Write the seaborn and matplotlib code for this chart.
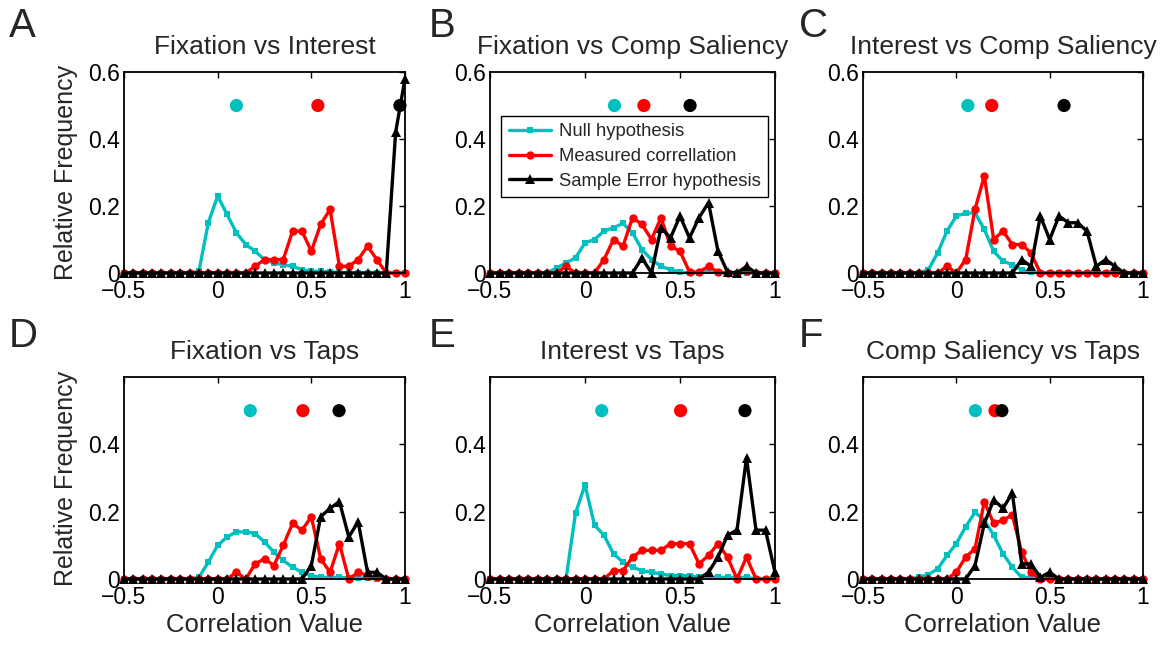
import matplotlib
matplotlib.use("Agg")
import matplotlib.pyplot as plt
import numpy as np
import pandas as pd
import seaborn as sns

# ---------------- data ----------------
bins = [-0.5, -0.45, -0.4, -0.35, -0.3, -0.25, -0.2, -0.15, -0.1, -0.05,
        0.0, 0.05, 0.1, 0.15, 0.2, 0.25, 0.3, 0.35, 0.4, 0.45,
        0.5, 0.55, 0.6, 0.65, 0.7, 0.75, 0.8, 0.85, 0.9, 0.95, 1.0]

series_names = ["Null hypothesis", "Measured correllation", "Sample Error hypothesis"]
titles = ["Fixation vs Interest", "Fixation vs Comp Saliency", "Interest vs Comp Saliency",
          "Fixation vs Taps", "Interest vs Taps", "Comp Saliency vs Taps"]
panel_letters = ["A", "B", "C", "D", "E", "F"]

null_A = [0, 0, 0, 0, 0, 0, 0, 0, 0.005, 0.15, 0.23, 0.175, 0.12, 0.085, 0.065, 0.04, 0.03, 0.025, 0.02, 0.01, 0.005, 0.005, 0.003, 0.002, 0, 0, 0, 0, 0, 0, 0]
meas_A = [0, 0, 0, 0, 0, 0, 0, 0, 0, 0, 0, 0, 0, 0, 0.02, 0.04, 0.04, 0.04, 0.125, 0.125, 0.065, 0.145, 0.19, 0.02, 0.02, 0.04, 0.08, 0.04, 0, 0, 0]
err_A = [0, 0, 0, 0, 0, 0, 0, 0, 0, 0, 0, 0, 0, 0, 0, 0, 0, 0, 0, 0, 0, 0, 0, 0, 0, 0, 0, 0, 0, 0.42, 0.58]

null_B = [0, 0, 0, 0, 0, 0, 0, 0.015, 0.03, 0.045, 0.09, 0.10, 0.125, 0.135, 0.148, 0.12, 0.07, 0.04, 0.02, 0.01, 0.003, 0, 0, 0.005, 0, 0, 0, 0, 0, 0, 0]
meas_B = [0, 0, 0, 0, 0, 0, 0, 0, 0.02, 0, 0, 0, 0.04, 0.1, 0.08, 0.165, 0.145, 0.1, 0.165, 0.08, 0.065, 0.003, 0.003, 0.02, 0.003, 0, 0, 0.005, 0, 0, 0]
err_B = [0, 0, 0, 0, 0, 0, 0, 0, 0, 0, 0, 0, 0, 0, 0, 0, 0.045, 0, 0.135, 0.105, 0.17, 0.105, 0.165, 0.21, 0.065, 0.003, 0, 0.02, 0, 0, 0]

null_C = [0, 0, 0, 0, 0, 0, 0, 0.01, 0.06, 0.125, 0.17, 0.178, 0.18, 0.13, 0.065, 0.035, 0.025, 0.01, 0.003, 0, 0, 0, 0, 0, 0, 0, 0, 0, 0, 0, 0]
meas_C = [0, 0, 0, 0, 0, 0, 0, 0, 0, 0.02, 0, 0.04, 0.19, 0.29, 0.1, 0.125, 0.085, 0.085, 0.06, 0, 0, 0, 0, 0, 0, 0, 0, 0, 0, 0, 0]
err_C = [0, 0, 0, 0, 0, 0, 0, 0, 0, 0, 0, 0, 0, 0, 0, 0, 0, 0.04, 0.02, 0.17, 0.1, 0.17, 0.15, 0.15, 0.125, 0.02, 0.04, 0.02, 0, 0, 0]

null_D = [0, 0, 0, 0, 0, 0, 0, 0, 0.005, 0.05, 0.1, 0.125, 0.14, 0.14, 0.135, 0.11, 0.08, 0.055, 0.035, 0.02, 0.01, 0.005, 0.005, 0.005, 0.003, 0.003, 0.003, 0, 0, 0, 0]
meas_D = [0, 0, 0, 0, 0, 0, 0, 0, 0, 0, 0, 0, 0.02, 0, 0.045, 0.06, 0.04, 0.1, 0.165, 0.145, 0.185, 0.06, 0.02, 0.105, 0, 0.02, 0.01, 0.005, 0, 0, 0]
err_D = [0, 0, 0, 0, 0, 0, 0, 0, 0, 0, 0, 0, 0, 0, 0, 0, 0, 0, 0, 0, 0.04, 0.185, 0.21, 0.23, 0.125, 0.17, 0.02, 0.02, 0, 0, 0]

null_E = [0, 0, 0, 0, 0, 0, 0, 0, 0, 0.195, 0.28, 0.16, 0.13, 0.075, 0.05, 0.035, 0.025, 0.02, 0.015, 0.01, 0.01, 0.01, 0.005, 0.005, 0.005, 0.005, 0.005, 0.005, 0, 0, 0]
meas_E = [0, 0, 0, 0, 0, 0, 0, 0, 0, 0, 0, 0, 0, 0.025, 0.025, 0.065, 0.085, 0.085, 0.085, 0.105, 0.105, 0.105, 0.045, 0.07, 0.105, 0.065, 0, 0.065, 0, 0, 0]
err_E = [0, 0, 0, 0, 0, 0, 0, 0, 0, 0, 0, 0, 0, 0, 0, 0, 0, 0, 0, 0, 0, 0, 0, 0.02, 0.065, 0.13, 0.145, 0.36, 0.145, 0.145, 0.02]

null_F = [0, 0, 0, 0, 0, 0, 0.005, 0.013, 0.03, 0.07, 0.105, 0.155, 0.198, 0.175, 0.13, 0.075, 0.035, 0.005, 0.005, 0, 0, 0, 0, 0, 0, 0, 0, 0, 0, 0, 0]
meas_F = [0, 0, 0, 0, 0, 0, 0, 0, 0, 0, 0.02, 0.065, 0.09, 0.23, 0.165, 0.175, 0.19, 0.08, 0.02, 0, 0, 0, 0, 0, 0, 0, 0, 0, 0, 0, 0]
err_F = [0, 0, 0, 0, 0, 0, 0, 0, 0, 0, 0, 0, 0.04, 0.165, 0.235, 0.21, 0.255, 0.045, 0.045, 0.005, 0.02, 0, 0, 0, 0, 0, 0, 0, 0, 0, 0]

# mean correlation markers (null, measured, sample error)
means_A = [0.10, 0.535, 0.973]
means_B = [0.155, 0.31, 0.553]
means_C = [0.062, 0.19, 0.577]
means_D = [0.174, 0.455, 0.648]
means_E = [0.088, 0.503, 0.842]
means_F = [0.102, 0.207, 0.244]
mean_level = 0.5

x_ticks = [-0.5, 0, 0.5, 1]
x_tick_labels = ["\u22120.5", "0", "0.5", "1"]
y_ticks_top = [0, 0.2, 0.4, 0.6]
y_tick_labels_top = ["0", "0.2", "0.4", "0.6"]
y_ticks_bottom = [0, 0.2, 0.4]
y_tick_labels_bottom = ["0", "0.2", "0.4"]

panels = [(null_A, meas_A, err_A, means_A), (null_B, meas_B, err_B, means_B),
          (null_C, meas_C, err_C, means_C), (null_D, meas_D, err_D, means_D),
          (null_E, meas_E, err_E, means_E), (null_F, meas_F, err_F, means_F)]

# ---------------- style ----------------
sns.set_style("white")
plt.rcParams["font.family"] = ["Liberation Sans", "DejaVu Sans"]

colors = {"Null hypothesis": "#00BFBF", "Measured correllation": "#FF0000",
          "Sample Error hypothesis": "#000000"}
markers = {"Null hypothesis": "s", "Measured correllation": "o",
           "Sample Error hypothesis": "^"}
msizes = [5, 6, 7]

W, H = 1172, 646
fig = plt.figure(figsize=(W / 100, H / 100), dpi=100)

# axes boxes in pixels: (left, right, top, bottom)
boxes = [(124, 405, 72, 273), (490, 775, 72, 273), (863, 1143, 72, 273),
         (124, 405, 377, 579), (490, 775, 377, 579), (863, 1143, 377, 579)]
letter_pos = [(9, 37), (429, 37), (799, 37), (9, 347), (429, 347), (799, 347)]

for i, ((nul, mea, err, mns), box) in enumerate(zip(panels, boxes)):
    l, r, t, b = box
    ax = fig.add_axes([l / W, 1 - b / H, (r - l) / W, (b - t) / H])
    df = pd.DataFrame({
        "x": bins * 3,
        "y": nul + mea + err,
        "series": [series_names[0]] * len(bins) + [series_names[1]] * len(bins)
                  + [series_names[2]] * len(bins),
    })
    sns.lineplot(data=df, x="x", y="y", hue="series", style="series",
                 hue_order=series_names, style_order=series_names,
                 palette=colors, markers=markers, dashes=False,
                 estimator=None, sort=False, linewidth=2.4, markersize=5,
                 markeredgewidth=0, legend=False, ax=ax, clip_on=False)
    lines = ax.lines[:3]
    for ln, ms in zip(lines, msizes):
        ln.set_markersize(ms)
        ln.set_clip_on(False)
    sns.scatterplot(x=mns, y=[mean_level] * 3, hue=series_names,
                    hue_order=series_names, palette=colors, s=90,
                    edgecolor="none", legend=False, ax=ax, clip_on=False,
                    zorder=5)

    ax.set_xlim(-0.5, 1)
    ax.set_ylim(0, 0.6)
    ax.set_xticks(x_ticks)
    ax.set_xticklabels(x_tick_labels)
    if i < 3:
        ax.set_yticks(y_ticks_top)
        ax.set_yticklabels(y_tick_labels_top)
    else:
        ax.set_yticks(y_ticks_bottom)
        ax.set_yticklabels(y_tick_labels_bottom)
    ax.tick_params(direction="in", length=4, width=1, top=True, right=True,
                   labelsize=16.5, colors="black", pad=3)
    ax.tick_params(axis="x", pad=5)
    for sp in ax.spines.values():
        sp.set_color("black")
        sp.set_linewidth(1.3)
        sp.set_visible(True)
    ax.set_title(titles[i], fontsize=19, pad=13)
    if i in (0, 3):
        ax.set_ylabel("Relative Frequency", fontsize=18)
        ax.yaxis.set_label_coords((78 - l) / (r - l), 0.5)
    else:
        ax.set_ylabel("")
    if i >= 3:
        ax.set_xlabel("Correlation Value", fontsize=18.5, labelpad=3)
    else:
        ax.set_xlabel("")
    if i == 1:
        leg = ax.legend(lines, series_names, loc="upper right",
                        bbox_to_anchor=(0.975, 0.781), borderaxespad=0,
                        fontsize=13.3, frameon=True, fancybox=False,
                        framealpha=1, edgecolor="black", handlelength=2.3,
                        labelspacing=0.42, borderpad=0.4, handletextpad=0.4)
        leg.get_frame().set_linewidth(1.0)
    lx, ly = letter_pos[i]
    fig.text(lx / W, 1 - ly / H, panel_letters[i], fontsize=29,
             va="baseline", ha="left")

fig.savefig("out.png", dpi=100)
